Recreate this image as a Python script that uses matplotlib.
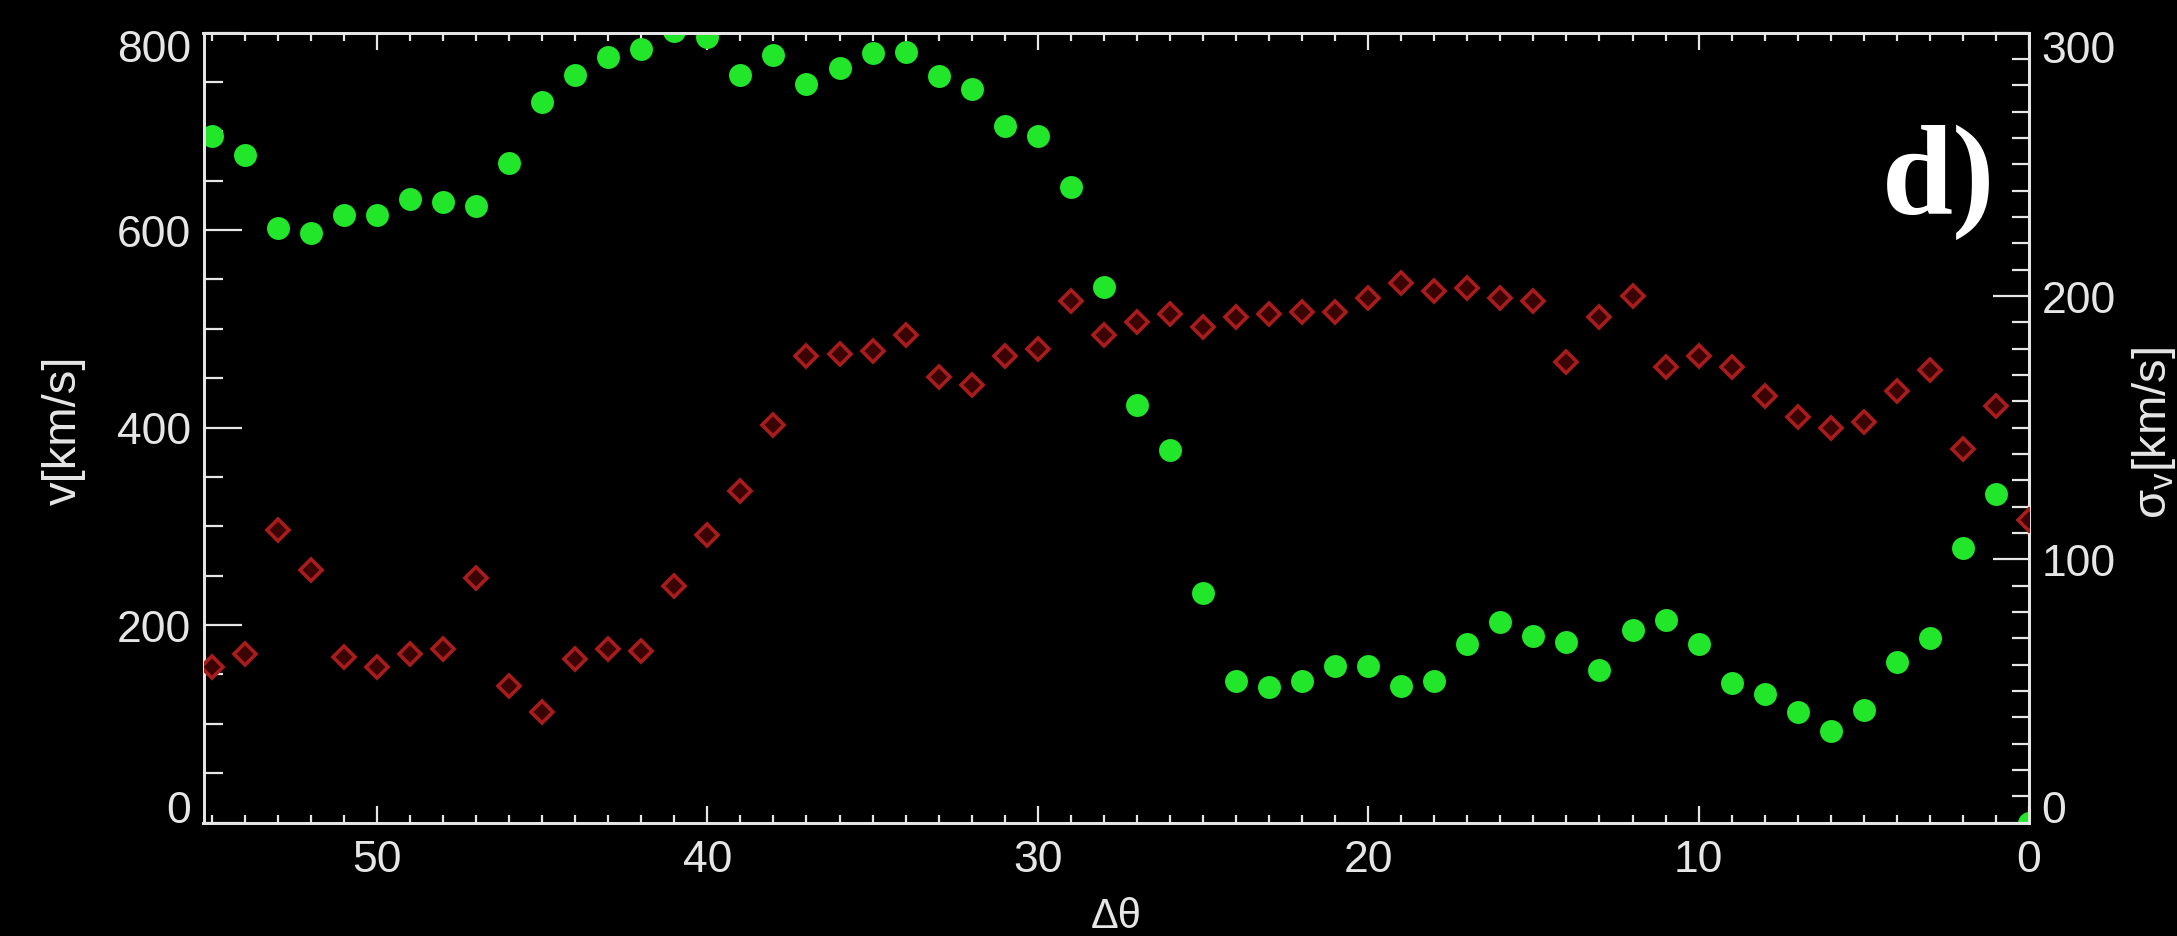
import numpy as np
import matplotlib
matplotlib.use("Agg")
import matplotlib.pyplot as plt
from matplotlib.ticker import MultipleLocator, FixedLocator
from matplotlib.transforms import ScaledTranslation

# Position angle offsets (degrees)
delta_theta = [55, 54, 53, 52, 51, 50, 49, 48, 47, 46, 45, 44, 43, 42, 41, 40,
               39, 38, 37, 36, 35, 34, 33, 32, 31, 30, 29, 28, 27, 26, 25, 24,
               23, 22, 21, 20, 19, 18, 17, 16, 15, 14, 13, 12, 11, 10, 9, 8,
               7, 6, 5, 4, 3, 2, 1, 0]

# Speed v [km/s] (left axis)
speed = [695, 676, 602, 597, 615, 615, 631, 628, 624, 668, 730, 757, 775, 783, 802, 795,
         757, 777, 748, 764, 779, 780, 756, 743, 705, 695, 644, 542, 423, 377, 232, 143,
         137, 143, 158, 158, 138, 143, 181, 203, 189, 183, 154, 195, 205, 181, 141, 130,
         112, 93, 114, 163, 187, 278, 333, 0]

# Velocity dispersion sigma_v [km/s] (right axis)
sigma = [59, 64, 111, 96, 63, 59, 64, 66, 93, 52, 42, 62, 66, 65, 90, 109,
         126, 151, 177, 178, 179, 185, 169, 166, 177, 180, 198, 185, 190, 193, 188, 192,
         193, 194, 194, 199, 205, 202, 203, 199, 198, 175, 192, 200, 173, 177, 173, 162,
         154, 150, 152, 164, 172, 142, 158, 115]

x_major = [0, 10, 20, 30, 40, 50]
v_major = [0, 200, 400, 600, 800]
s_major = [0, 100, 200, 300]

W, H, DPI = 2177, 937, 100
FG = "#e6e6e6"
GREEN = "#22e62a"
RED = "#a81c1c"

plt.rcParams["font.family"] = ["Liberation Sans", "DejaVu Sans"]
plt.rcParams["mathtext.fontset"] = "custom"
plt.rcParams["mathtext.rm"] = "Liberation Sans"
plt.rcParams["mathtext.it"] = "Liberation Sans:italic"

fig = plt.figure(figsize=(W / DPI, H / DPI), dpi=DPI, facecolor="black")
left_px, right_px, top_px, bot_px = 203.5, 2029, 33.5, 823.5
ax = fig.add_axes([left_px / W, 1 - bot_px / H,
                   (right_px - left_px) / W, (bot_px - top_px) / H])
ax.set_facecolor("black")

ax.plot(delta_theta, speed, linestyle="none", marker="o", markersize=16.5,
        color=GREEN, markeredgecolor="none", zorder=3)
ax.set_xlim(55.25, 0)
ax.set_ylim(0, 800)

ax2 = ax.twinx()
ax2.plot(delta_theta, sigma, linestyle="none", marker="D", markersize=11.5,
         markerfacecolor="#3a0404", markeredgecolor=RED, markeredgewidth=2.6,
         zorder=3)
ax2.set_ylim(0, 300)

for a in (ax, ax2):
    for sp in a.spines.values():
        sp.set_color(FG)
        sp.set_linewidth(2.0)

# x axis: ticks on top and bottom, pointing inward
ax.xaxis.set_major_locator(FixedLocator(x_major))
ax.xaxis.set_minor_locator(MultipleLocator(1))
ax.tick_params(axis="x", which="both", direction="in", top=True, bottom=True,
               colors=FG, width=1.6, labelsize=32, pad=12)
ax.tick_params(axis="x", which="major", length=12)
ax.tick_params(axis="x", which="minor", length=6)

# left y axis
ax.yaxis.set_major_locator(FixedLocator(v_major))
ax.yaxis.set_minor_locator(MultipleLocator(50))
ax.tick_params(axis="y", which="both", direction="in", left=True, right=False,
               colors=FG, width=1.6, labelsize=32, pad=9)
ax.tick_params(axis="y", which="major", length=27)
ax.tick_params(axis="y", which="minor", length=14)

# right y axis
ax2.yaxis.set_major_locator(FixedLocator(s_major))
ax2.yaxis.set_minor_locator(MultipleLocator(10))
ax2.tick_params(axis="y", which="both", direction="in", left=False, right=True,
                colors=FG, width=1.6, labelsize=32, pad=9)
ax2.tick_params(axis="y", which="major", length=26)
ax2.tick_params(axis="y", which="minor", length=12)

ax.set_yticklabels([str(t) for t in v_major])
ax2.set_yticklabels([str(t) for t in s_major])
ax.set_xticklabels([str(t) for t in x_major])

# keep the end labels of the vertical axes inside the frame
down = ScaledTranslation(0, -13 / DPI, fig.dpi_scale_trans)
up = ScaledTranslation(0, 16 / DPI, fig.dpi_scale_trans)
for a, ticks in ((ax, v_major), (ax2, s_major)):
    mt = a.yaxis.get_major_ticks()
    for lab in (mt[0].label1, mt[0].label2):
        lab.set_transform(lab.get_transform() + up)
    for lab in (mt[-1].label1, mt[-1].label2):
        lab.set_transform(lab.get_transform() + down)

fig.text(64 / W, 1 - 430 / H, "v[km/s]", rotation=90, ha="center", va="center",
         color=FG, fontsize=34)
fig.text(2154 / W, 1 - 433 / H, r"$\mathregular{\sigma_v}$[km/s]", rotation=90,
         ha="center", va="center", color=FG, fontsize=34)
fig.text(1116 / W, 1 - 897 / H, "Δθ", ha="center", va="top", color=FG, fontsize=30)
fig.text(1882 / W, 1 - 213 / H, "d)", ha="left", va="baseline", color="white",
         fontsize=92, fontweight="bold", family=["Liberation Serif", "DejaVu Serif"])

fig.savefig("out.png", dpi=DPI, facecolor="black")
